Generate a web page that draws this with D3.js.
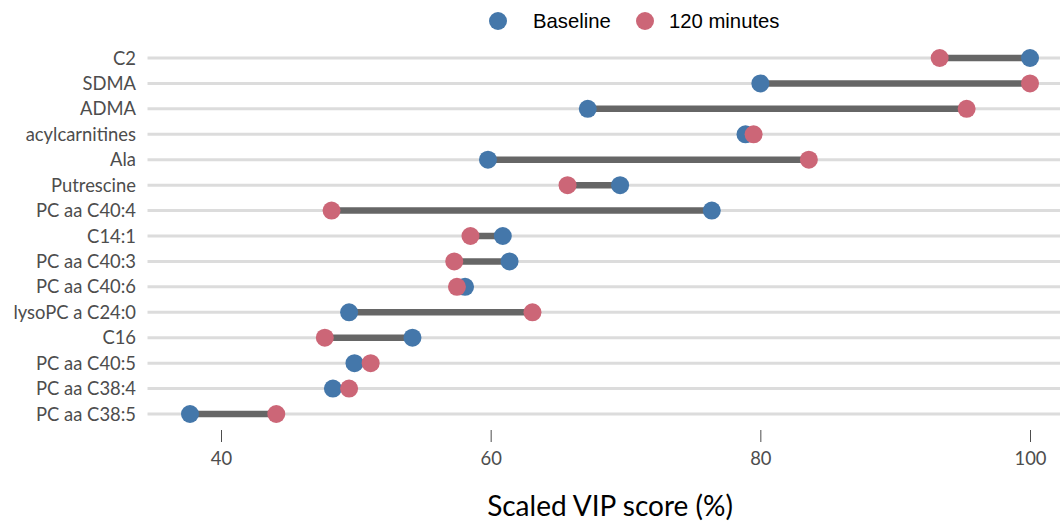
<!DOCTYPE html>
<html>
<head>
<meta charset="utf-8">
<script src="https://cdn.jsdelivr.net/npm/d3@7"></script>
<style>
  body { margin: 0; background: #fff; }
  svg { display: block; }
</style>
</head>
<body>
<div id="chart"></div>
<script>
// metabolites, top to bottom
const metabolites = ['C2', 'SDMA', 'ADMA', 'acylcarnitines', 'Ala', 'Putrescine',
  'PC aa C40:4', 'C14:1', 'PC aa C40:3', 'PC aa C40:6', 'lysoPC a C24:0',
  'C16', 'PC aa C40:5', 'PC aa C38:4', 'PC aa C38:5'];

// scaled VIP score (%)
const baseline = [100, 80.0, 67.2, 78.9, 59.8, 69.6, 76.4, 60.9, 61.4, 58.1, 49.5, 54.2, 49.9, 48.3, 37.7];
const min120 = [93.3, 100, 95.3, 79.5, 83.6, 65.7, 48.2, 58.5, 57.3, 57.5, 63.1, 47.7, 51.1, 49.5, 44.1];

const xTicks = [40, 60, 80, 100];
const seriesNames = ['Baseline', '120 minutes'];
const seriesColors = ['#4477AA', '#CC6677'];

const width = 1060, height = 523;

const svg = d3.select('#chart')
  .append('svg')
    .attr('width', width)
    .attr('height', height);

let x = d3.scaleLinear()
  .domain([40, 100])
  .range([221, 1030]);

let y = d3.scalePoint()
  .domain(metabolites)
  .range([58, 414]);

// gridlines for each category
svg.append('g')
  .selectAll('line')
  .data(metabolites)
  .enter().append('line')
    .attr('x1', x(34.55))
    .attr('x2', width)
    .attr('y1', d => y(d))
    .attr('y2', d => y(d))
    .attr('stroke', '#dcdcdc')
    .attr('stroke-width', 3);

// category labels
svg.append('g')
  .selectAll('text')
  .data(metabolites)
  .enter().append('text')
    .attr('x', 136)
    .attr('y', d => y(d))
    .attr('dy', '0.36em')
    .attr('text-anchor', 'end')
    .style('font-family', 'Lato')
    .style('font-size', '18.4px')
    .style('fill', '#4d4d4d')
    .text(d => d);

// x axis
let xAxis = svg.append('g')
    .attr('transform', 'translate(0,430)')
    .call(d3.axisBottom(x).tickValues(xTicks).tickSize(12).tickPadding(10));

xAxis.select('.domain').remove();
xAxis.selectAll('.tick line').attr('stroke', '#4d4d4d');
xAxis.selectAll('.tick text')
    .style('font-family', 'Lato')
    .style('font-size', '18.4px')
    .style('fill', '#4d4d4d');

svg.append('text')
    .attr('x', 610)
    .attr('y', 516)
    .attr('text-anchor', 'middle')
    .style('font-family', 'Lato')
    .style('font-size', '28px')
    .style('fill', '#000')
    .text('Scaled VIP score (%)');

// dumbbell segments
let rows = metabolites.map((m, i) => ({ name: m, b: baseline[i], t: min120[i] }));

svg.append('g')
  .selectAll('line')
  .data(rows)
  .enter().append('line')
    .attr('x1', d => x(d.b))
    .attr('x2', d => x(d.t))
    .attr('y1', d => y(d.name))
    .attr('y2', d => y(d.name))
    .attr('stroke', '#666666')
    .attr('stroke-width', 6.5);

// points, baseline first so 120 minutes sits on top
[baseline, min120].forEach((vals, k) => {
  svg.append('g')
    .selectAll('circle')
    .data(vals)
    .enter().append('circle')
      .attr('cx', d => x(d))
      .attr('cy', (d, i) => y(metabolites[i]))
      .attr('r', 9)
      .attr('fill', seriesColors[k]);
});

// legend
let legendX = [498, 645];
let legend = svg.append('g')
  .selectAll('g')
  .data(seriesNames)
  .enter().append('g')
    .attr('transform', (d, i) => 'translate(' + legendX[i] + ',21)');

legend.append('circle')
    .attr('r', 9)
    .attr('fill', (d, i) => seriesColors[i]);

legend.append('text')
    .attr('x', (d, i) => i === 0 ? 35 : 24)
    .attr('dy', '0.36em')
    .style('font-family', 'Liberation Sans, Arial, sans-serif')
    .style('font-size', '20.3px')
    .style('fill', '#000')
    .text(d => d);
</script>
</body>
</html>
